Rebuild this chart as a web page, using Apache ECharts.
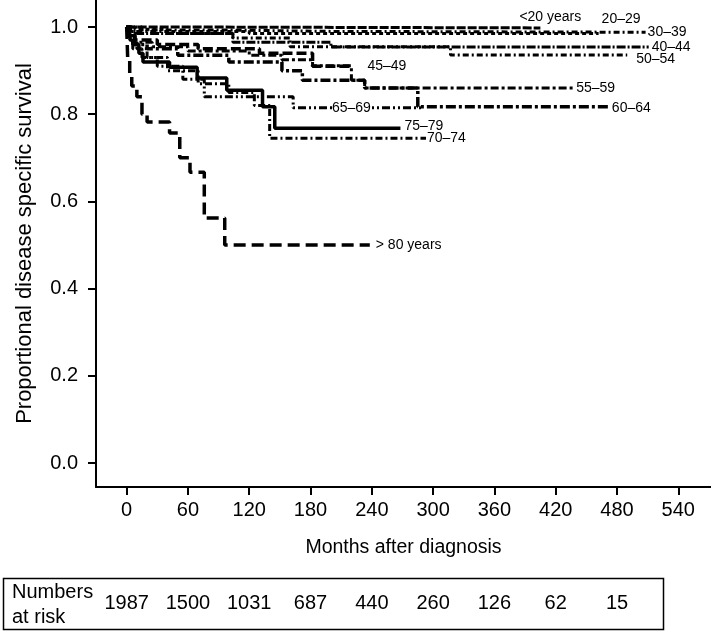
<!DOCTYPE html>
<html>
<head>
<meta charset="utf-8">
<script src="https://cdn.jsdelivr.net/npm/echarts@6/dist/echarts.min.js"></script>
<style>
html,body{margin:0;padding:0;background:#fff;}
#chart{width:711px;height:631px;}
</style>
</head>
<body>
<div id="chart"></div>
<script>
// ---- tick labels / axis data ----
const xTicks = [0, 60, 120, 180, 240, 300, 360, 420, 480, 540];
const yTicks = [0, 0.2, 0.4, 0.6, 0.8, 1.0];
const riskMonths = [0, 60, 120, 180, 240, 300, 360, 420, 480];
const atRisk = [1987, 1500, 1031, 687, 440, 260, 126, 62, 15];

// ---- Kaplan-Meier curves (months, survival) ----
const t_lt20 = [0, 60, 405];
const s_lt20 = [1.0, 0.998, 0.998];
const t_2029 = [0, 8, 40, 120, 462];
const s_2029 = [1.0, 0.995, 0.99, 0.985, 0.985];
const t_3039 = [0, 15, 100, 200, 508];
const s_3039 = [1.0, 0.993, 0.99, 0.988, 0.988];
const t_4044 = [0, 4, 10, 104, 200, 511];
const s_4044 = [1.0, 0.99, 0.985, 0.965, 0.954, 0.954];
const t_4549 = [0, 2, 8, 30, 70, 130, 182, 220];
const s_4549 = [1.0, 0.985, 0.97, 0.96, 0.95, 0.94, 0.91, 0.91];
const t_5054 = [0, 5, 40, 104, 160, 317, 490];
const s_5054 = [1.0, 0.99, 0.985, 0.975, 0.955, 0.936, 0.936];
const t_5559 = [0, 3, 8, 25, 60, 120, 152, 182, 220, 233, 439];
const s_5559 = [1.0, 0.98, 0.965, 0.955, 0.945, 0.935, 0.925, 0.911, 0.878, 0.86, 0.86];
const t_6064 = [0, 2, 6, 20, 50, 100, 152, 172, 233, 285, 473];
const s_6064 = [1.0, 0.975, 0.96, 0.95, 0.935, 0.92, 0.9, 0.878, 0.86, 0.817, 0.817];
const t_6569 = [0, 2, 6, 15, 30, 55, 76, 163, 290];
const s_6569 = [1.0, 0.97, 0.95, 0.93, 0.91, 0.88, 0.84, 0.815, 0.815];
const t_7074 = [0, 3, 10, 20, 40, 70, 100, 125, 140, 293];
const s_7074 = [1.0, 0.97, 0.95, 0.93, 0.9, 0.87, 0.85, 0.82, 0.745, 0.745];
const t_7579 = [0, 3, 8, 12, 16, 42, 69, 98, 133, 145, 268];
const s_7579 = [1.0, 0.98, 0.96, 0.94, 0.92, 0.908, 0.883, 0.855, 0.817, 0.768, 0.768];
const t_80 = [0, 1, 3, 5, 10, 15, 20, 42, 52, 62, 76, 96, 238];
const s_80 = [1.0, 0.93, 0.89, 0.865, 0.84, 0.80, 0.782, 0.757, 0.70, 0.667, 0.562, 0.5, 0.5];

const zip = (t, s) => t.map((m, i) => [m, s[i]]);
const FONT = 'Liberation Sans, Arial, sans-serif';

function curve(name, t, s, dash, width, off, extra) {
  const o = {
    name: name,
    type: 'line',
    step: 'end',
    data: zip(t, s),
    showSymbol: false,
    silent: true,
    lineStyle: { color: '#000', width: width, type: dash, cap: 'butt' },
    endLabel: off ? {
      show: true, formatter: name, color: '#000', fontSize: 14,
      fontFamily: FONT, offset: off, distance: 4
    } : { show: false },
    z: 3
  };
  return Object.assign(o, extra || {});
}

const series = [
  curve('<20 years', t_lt20, s_lt20, [9, 2], 3, [-25, -11]),
  curve('20–29', t_2029, s_2029, [4, 3], 3, [-1, -14]),
  curve('30–39', t_3039, s_3039, [6, 3, 2, 3], 3, [-2, 0]),
  curve('40–44', t_4044, s_4044, [9, 2, 2, 2], 3, [-1, 0]),
  curve('45–49', t_4549, s_4549, [10, 4], 3.5, [12, 0]),
  curve('50–54', t_5054, s_5054, [6, 3, 2, 3], 3, [5, 4]),
  curve('55–59', t_5559, s_5559, [8, 3, 3, 3], 3, [-3, 0]),
  curve('60–64', t_6064, s_6064, [10, 3, 3, 3], 3.5, [-2, 1]),
  curve('65–69', t_6569, s_6569, [8, 3, 2, 3, 2, 3], 3, null, {
    markPoint: {
      silent: true,
      data: [{
        coord: [220, 0.815], symbol: 'rect', symbolSize: [38, 14],
        itemStyle: { color: '#fff' },
        label: { show: true, position: 'inside', formatter: '65–69', color: '#000', fontSize: 14, fontFamily: FONT }
      }]
    }
  }),
  curve('70–74', t_7074, s_7074, [7, 3, 2, 3], 3, [-3, 0]),
  curve('75–79', t_7579, s_7579, 'solid', 3.5, [0, -2]),
  curve('> 80 years', t_80, s_80, [12, 6], 3.5, [2, 0])
];

const chart = echarts.init(document.getElementById('chart'), null, { renderer: 'canvas' });
chart.setOption({
  animation: false,
  backgroundColor: '#fff',
  textStyle: { fontFamily: FONT },
  grid: [
    { left: 96, right: 0, top: 0, bottom: 144, containLabel: false },
    { left: 96, right: 0, top: 580, height: 10, containLabel: false }
  ],
  xAxis: [{
    type: 'value', gridIndex: 0, min: -30, max: 572,
    name: 'Months after diagnosis', nameLocation: 'middle', nameGap: 51,
    nameTextStyle: { color: '#000', fontSize: 19.5, fontFamily: FONT },
    axisLine: { show: true, onZero: false, lineStyle: { color: '#000', width: 2 } },
    axisTick: { show: true, length: 8, customValues: xTicks, lineStyle: { color: '#000', width: 2 } },
    axisLabel: { customValues: xTicks, color: '#000', fontSize: 20, margin: 13, fontFamily: FONT },
    splitLine: { show: false }
  }, {
    type: 'value', gridIndex: 1, min: -30, max: 572,
    axisLine: { show: false }, axisTick: { show: false },
    axisLabel: {
      customValues: riskMonths, color: '#000', fontSize: 20, margin: 3, fontFamily: FONT,
      formatter: v => String(atRisk[riskMonths.indexOf(v)])
    },
    splitLine: { show: false }
  }],
  yAxis: [{
    type: 'value', gridIndex: 0, min: -0.055, max: 1.062,
    name: 'Proportional disease specific survival', nameLocation: 'middle', nameGap: 60,
    nameTextStyle: { color: '#000', fontSize: 22, fontFamily: FONT },
    axisLine: { show: true, onZero: false, lineStyle: { color: '#000', width: 2 } },
    axisTick: { show: true, length: 8, customValues: yTicks, lineStyle: { color: '#000', width: 2 } },
    axisLabel: { customValues: yTicks, color: '#000', fontSize: 20, margin: 18, fontFamily: FONT,
      formatter: v => v.toFixed(1) },
    splitLine: { show: false }
  }, {
    type: 'value', gridIndex: 1, show: false
  }],
  graphic: [
    { type: 'rect', shape: { x: 3.5, y: 578.5, width: 660, height: 51 },
      style: { fill: 'none', stroke: '#000', lineWidth: 1.5 } },
    { type: 'text', x: 12, y: 592, style: { text: 'Numbers', fill: '#000', fontSize: 20, fontFamily: FONT, verticalAlign: 'middle' } },
    { type: 'text', x: 12, y: 617, style: { text: 'at risk', fill: '#000', fontSize: 20, fontFamily: FONT, verticalAlign: 'middle' } }
  ],
  series: series
});
</script>
</body>
</html>
